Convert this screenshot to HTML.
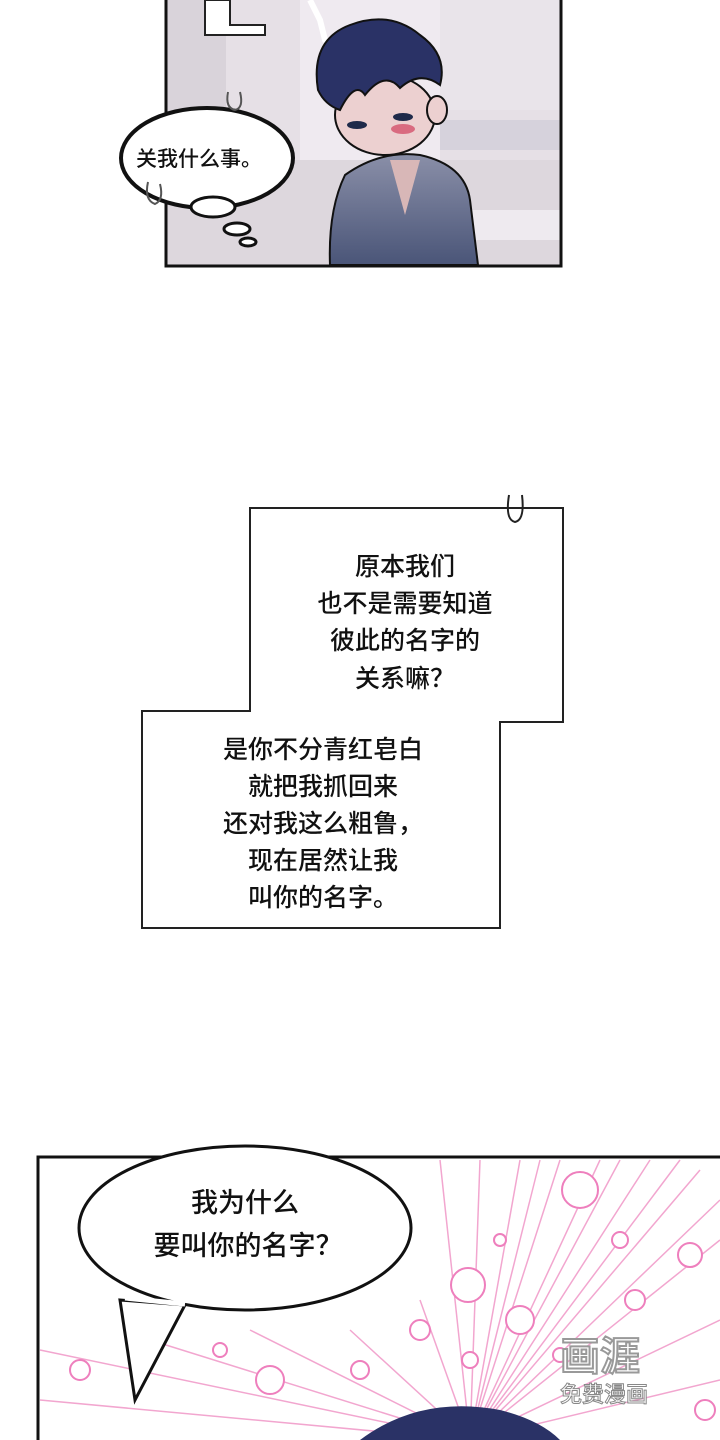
<!DOCTYPE html>
<html><head><meta charset="utf-8"><style>
html,body{margin:0;padding:0;background:#fff}
svg{display:block}
text{font-family:"Liberation Sans","Noto Sans CJK SC",sans-serif;fill:#111;font-weight:500}
</style></head><body>
<svg width="720" height="1440" viewBox="0 0 720 1440" xmlns="http://www.w3.org/2000/svg">
<defs>
<clipPath id="p1"><rect x="166" y="0" width="395" height="265"/></clipPath>
<clipPath id="p2"><rect x="38" y="1157" width="684" height="290"/></clipPath>
<linearGradient id="rb" x1="0" y1="0" x2="0" y2="1"><stop offset="0" stop-color="#8a8fa8"/><stop offset="1" stop-color="#4a5578"/></linearGradient>
</defs>
<!-- top panel -->
<g clip-path="url(#p1)">
<rect x="166" y="0" width="395" height="265" fill="#e6e0e6"/>
<rect x="166" y="0" width="60" height="265" fill="#d9d3da"/>
<rect x="300" y="0" width="140" height="160" fill="#efeaf0"/>
<rect x="440" y="0" width="121" height="110" fill="#e9e4ea"/>
<rect x="440" y="120" width="121" height="30" fill="#d6d2dc"/>
<rect x="166" y="160" width="395" height="105" fill="#ddd7dd"/>
<rect x="470" y="210" width="91" height="30" fill="#eeeaef"/>
<path d="M205 0 V35 H265 V25 H230 V0 Z" fill="#fff" stroke="#222" stroke-width="2"/>
<path d="M310 0 L320 20 L325 40 L335 50" fill="none" stroke="#fff" stroke-width="6"/>
<path d="M345 175 Q380 150 420 155 Q465 165 470 200 L478 265 L330 265 Q328 210 345 175 Z" fill="url(#rb)" stroke="#111" stroke-width="2"/>
<path d="M390 160 L405 215 L420 160 Z" fill="#d8b7b7"/>
<ellipse cx="385" cy="115" rx="50" ry="40" fill="#ecd0d0" stroke="#111" stroke-width="2"/>
<ellipse cx="403" cy="129" rx="12" ry="5" fill="#d96b80"/>
<ellipse cx="357" cy="125" rx="10" ry="4" fill="#1f2a4a"/>
<ellipse cx="403" cy="117" rx="10" ry="4" fill="#1f2a4a"/>
<path d="M318 90 Q310 40 350 25 Q390 10 420 35 Q448 55 440 85 Q420 70 400 88 Q385 70 365 95 Q355 80 340 110 Q325 105 318 90 Z" fill="#2a3266" stroke="#111" stroke-width="2"/>
<ellipse cx="437" cy="110" rx="10" ry="14" fill="#ecd0d0" stroke="#111" stroke-width="2"/>
</g>
<rect x="166" y="-5" width="395" height="271" fill="none" stroke="#111" stroke-width="3"/>
<!-- bubble -->
<ellipse cx="207" cy="158" rx="86" ry="50" fill="#fff" stroke="#111" stroke-width="4"/>
<ellipse cx="213" cy="207" rx="22" ry="10" fill="#fff" stroke="#111" stroke-width="3"/>
<ellipse cx="237" cy="229" rx="13" ry="6" fill="#fff" stroke="#111" stroke-width="3"/>
<ellipse cx="248" cy="242" rx="8" ry="4" fill="#fff" stroke="#111" stroke-width="3"/>
<text x="136" y="166" font-size="21">关我什么事。</text>
<path d="M228 92 Q225 108 235 110 Q244 108 240 92" fill="none" stroke="#555" stroke-width="2"/>
<path d="M148 182 Q144 200 155 204 Q164 200 160 184" fill="none" stroke="#555" stroke-width="2"/>
<!-- middle boxes -->
<path d="M250 508 H563 V722 H500 V928 H142 V711 H250 Z" fill="#fff" stroke="#222" stroke-width="2"/>
<path d="M509 495 Q505 520 515 522 Q525 520 522 495" fill="none" stroke="#222" stroke-width="2"/>
<g font-size="25" text-anchor="middle">
<text x="405" y="575">原本我们</text>
<text x="405" y="612">也不是需要知道</text>
<text x="405" y="649">彼此的名字的</text>
<text x="405" y="687">关系嘛？</text>
<text x="323" y="758">是你不分青红皂白</text>
<text x="323" y="795">就把我抓回来</text>
<text x="323" y="832">还对我这么粗鲁，</text>
<text x="323" y="869">现在居然让我</text>
<text x="323" y="906">叫你的名字。</text>
</g>
<!-- bottom panel -->
<g clip-path="url(#p2)">
<rect x="38" y="1157" width="684" height="290" fill="#fff"/>
<g stroke="#f2a6cf" stroke-width="1.5">
<line x1="470" y1="1440" x2="440" y2="1160"/><line x1="470" y1="1440" x2="480" y2="1160"/>
<line x1="470" y1="1440" x2="520" y2="1160"/><line x1="470" y1="1440" x2="560" y2="1160"/>
<line x1="470" y1="1440" x2="600" y2="1160"/><line x1="470" y1="1440" x2="650" y2="1160"/>
<line x1="470" y1="1440" x2="700" y2="1170"/><line x1="470" y1="1440" x2="720" y2="1240"/>
<line x1="470" y1="1440" x2="720" y2="1320"/><line x1="470" y1="1440" x2="720" y2="1380"/>
<line x1="470" y1="1440" x2="420" y2="1300"/><line x1="470" y1="1440" x2="350" y2="1330"/>
<line x1="470" y1="1440" x2="250" y2="1330"/><line x1="470" y1="1440" x2="150" y2="1340"/>
<line x1="470" y1="1440" x2="40" y2="1350"/><line x1="470" y1="1440" x2="40" y2="1400"/>
<line x1="470" y1="1440" x2="540" y2="1160"/><line x1="470" y1="1440" x2="620" y2="1160"/>
<line x1="470" y1="1440" x2="680" y2="1160"/><line x1="470" y1="1440" x2="720" y2="1200"/>
</g>
<g fill="#fff" stroke="#ee7fbd" stroke-width="2">
<circle cx="580" cy="1190" r="18"/><circle cx="468" cy="1285" r="17"/><circle cx="690" cy="1255" r="12"/>
<circle cx="520" cy="1320" r="14"/><circle cx="635" cy="1300" r="10"/><circle cx="270" cy="1380" r="14"/>
<circle cx="360" cy="1370" r="9"/><circle cx="80" cy="1370" r="10"/><circle cx="220" cy="1350" r="7"/>
<circle cx="420" cy="1330" r="10"/><circle cx="470" cy="1360" r="8"/><circle cx="560" cy="1355" r="7"/>
<circle cx="705" cy="1410" r="10"/><circle cx="620" cy="1240" r="8"/><circle cx="500" cy="1240" r="6"/>
</g>
<path d="M360 1440 Q420 1395 500 1410 Q540 1420 560 1440 Z" fill="#2a3266"/>
<text x="560" y="1370" font-size="40" style="fill:#fff;stroke:#999;stroke-width:2">画涯</text>
<text x="560" y="1402" font-size="22" style="fill:#fff;stroke:#888;stroke-width:1">免费漫画</text>
</g>
<rect x="38" y="1157" width="690" height="290" fill="none" stroke="#111" stroke-width="3"/>
<path d="M120 1300 L135 1400 L185 1305 Z" fill="#fff" stroke="#111" stroke-width="3"/>
<ellipse cx="245" cy="1228" rx="166" ry="82" fill="#fff" stroke="#111" stroke-width="3"/>
<path d="M125 1298 L185 1304" stroke="#fff" stroke-width="5"/>
<text x="245" y="1212" font-size="27" text-anchor="middle">我为什么</text>
<text x="248" y="1255" font-size="27" text-anchor="middle">要叫你的名字？</text>
</svg>
</body></html>
